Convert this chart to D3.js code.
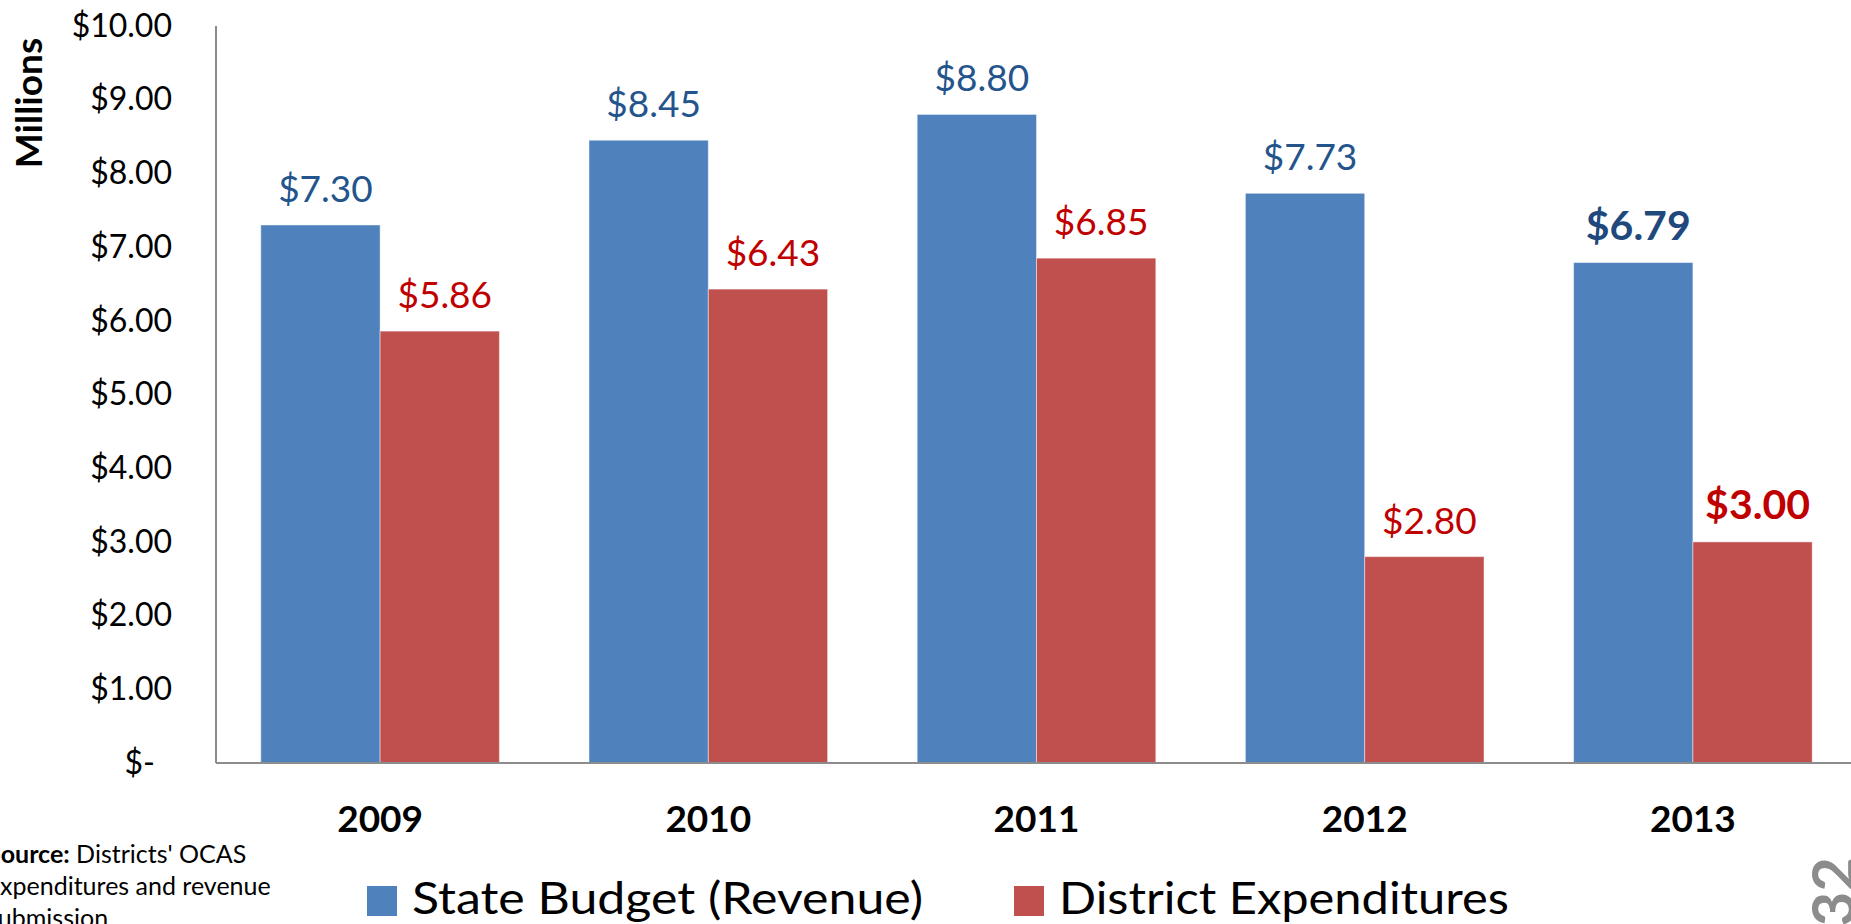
<!DOCTYPE html>
<html>
<head>
<meta charset="utf-8">
<script src="https://cdn.jsdelivr.net/npm/d3@7"></script>
<style>
body { margin: 0; background: #fff; overflow: hidden; }
text { font-family: Lato, "Open Sans", sans-serif; }
</style>
</head>
<body>
<div id="chart"></div>
<script>
// chart values (millions of dollars)
var years = ["2009", "2010", "2011", "2012", "2013"];
var seriesNames = ["State Budget (Revenue)", "District Expenditures"];
var stateBudget = [7.30, 8.45, 8.80, 7.73, 6.79];
var districtExp = [5.86, 6.43, 6.85, 2.80, 3.00];
var yTicks = [0, 1, 2, 3, 4, 5, 6, 7, 8, 9, 10];

var W = 1851, H = 924;
var barColors = ["#4F81BD", "#C0504D"];
var labelColors = ["#24548C", "#C00000"];
var boldColors = ["#1F497D", "#C00000"];

var svg = d3.select("#chart").append("svg")
	.attr("width", W)
	.attr("height", H);

var plotLeft = 216, plotTop = 26, plotBottom = 763;
var plotRight = plotLeft + 5 * 328.2; // plot runs past the right edge of the slide

var x = d3.scaleBand()
	.domain(years)
	.range([plotLeft, plotRight])
	.paddingInner(0.273)
	.paddingOuter(0.1365);

var x1 = d3.scaleBand()
	.domain([0, 1])
	.range([0, x.bandwidth()]);

var y = d3.scaleLinear()
	.domain([0, 10])
	.range([plotBottom, plotTop]);

// table built from the arrays
var rows = years.map(function(yr, i) {
	return { year: yr, vals: [stateBudget[i], districtExp[i]], last: i == years.length - 1 };
});

// y axis labels
var yAxis = d3.axisLeft(y)
	.tickValues(yTicks)
	.tickSize(0)
	.tickPadding(44)
	.tickFormat(function(d) { return d == 0 ? "$-" : "$" + d3.format(".2f")(d); });

var gy = svg.append("g")
	.attr("transform", "translate(" + plotLeft + ",0)")
	.call(yAxis);
gy.select(".domain").remove();
gy.selectAll("text")
	.style("font-size", "32px")
	.style("font-family", "Lato, sans-serif")
	.attr("fill", "#000");
gy.selectAll(".tick").filter(function(d) { return d == 0; })
	.select("text").attr("x", -61);

// bars
var groups = svg.selectAll(".yr")
	.data(rows)
	.enter().append("g")
	.attr("class", "yr")
	.attr("transform", function(d) { return "translate(" + x(d.year) + ",0)"; });

groups.selectAll("rect")
	.data(function(d) { return d.vals.map(function(v, k) { return { v: v, k: k, last: d.last }; }); })
	.enter().append("rect")
	.attr("x", function(d) { return x1(d.k); })
	.attr("y", function(d) { return y(d.v); })
	.attr("width", x1.bandwidth())
	.attr("height", function(d) { return plotBottom - y(d.v); })
	.attr("fill", function(d) { return barColors[d.k]; })
	.attr("stroke", "rgba(255,255,255,0.45)")
	.attr("stroke-width", 1);

// value labels
groups.selectAll(".val")
	.data(function(d) { return d.vals.map(function(v, k) { return { v: v, k: k, last: d.last }; }); })
	.enter().append("text")
	.attr("class", "val")
	.attr("x", function(d) { return x1(d.k) + x1.bandwidth() / 2 + 5; })
	.attr("y", function(d) { return y(d.v) - 23; })
	.attr("text-anchor", "middle")
	.style("font-size", function(d) { return d.last ? "41px" : "37px"; })
	.style("font-weight", function(d) { return d.last ? "bold" : "normal"; })
	.attr("fill", function(d) { return d.last ? boldColors[d.k] : labelColors[d.k]; })
	.text(function(d) { return "$" + d3.format(".2f")(d.v); });

// axis lines
svg.append("line")
	.attr("x1", plotLeft).attr("x2", plotLeft)
	.attr("y1", plotTop).attr("y2", plotBottom)
	.attr("stroke", "#8c8c8c").attr("stroke-width", 2);
svg.append("line")
	.attr("x1", plotLeft).attr("x2", W)
	.attr("y1", plotBottom).attr("y2", plotBottom)
	.attr("stroke", "#8c8c8c").attr("stroke-width", 2);

// category labels
svg.selectAll(".cat")
	.data(years)
	.enter().append("text")
	.attr("class", "cat")
	.attr("x", function(d) { return x(d) + x.bandwidth() / 2; })
	.attr("y", 832)
	.attr("text-anchor", "middle")
	.style("font-size", "37px")
	.style("font-weight", "bold")
	.text(function(d) { return d; });

// y title
svg.append("text")
	.attr("transform", "translate(42,103) rotate(-90)")
	.attr("text-anchor", "middle")
	.style("font-size", "37px")
	.style("font-weight", "bold")
	.text("Millions");

// legend
var legX = [367, 1014];
var legLen = [511, 450];
var leg = svg.selectAll(".leg")
	.data(seriesNames)
	.enter().append("g")
	.attr("class", "leg")
	.attr("transform", function(d, i) { return "translate(" + legX[i] + ",0)"; });
leg.append("rect")
	.attr("x", 0).attr("y", 886)
	.attr("width", 30).attr("height", 30)
	.attr("fill", function(d, i) { return barColors[i]; });
leg.append("text")
	.attr("x", 45).attr("y", 914)
	.attr("textLength", function(d, i) { return legLen[i]; })
	.attr("lengthAdjust", "spacingAndGlyphs")
	.style("font-size", "44px")
	.text(function(d) { return d; });

// source note, cut off at the left edge
var src = svg.append("text")
	.style("font-size", "25px");
src.append("tspan").attr("x", -13).attr("y", 863)
	.style("font-weight", "bold").text("Source:");
src.append("tspan").text(" Districts' OCAS");
src.append("tspan").attr("x", -13).attr("y", 895).text("expenditures and revenue");
src.append("tspan").attr("x", -13).attr("y", 927).text("submission");

// page number
svg.append("text")
	.attr("transform", "translate(1855,857) rotate(-90)")
	.attr("text-anchor", "end")
	.style("font-size", "60px")
	.style("font-weight", "bold")
	.attr("fill", "#8c8c8c")
	.text("32");
</script>
</body>
</html>
